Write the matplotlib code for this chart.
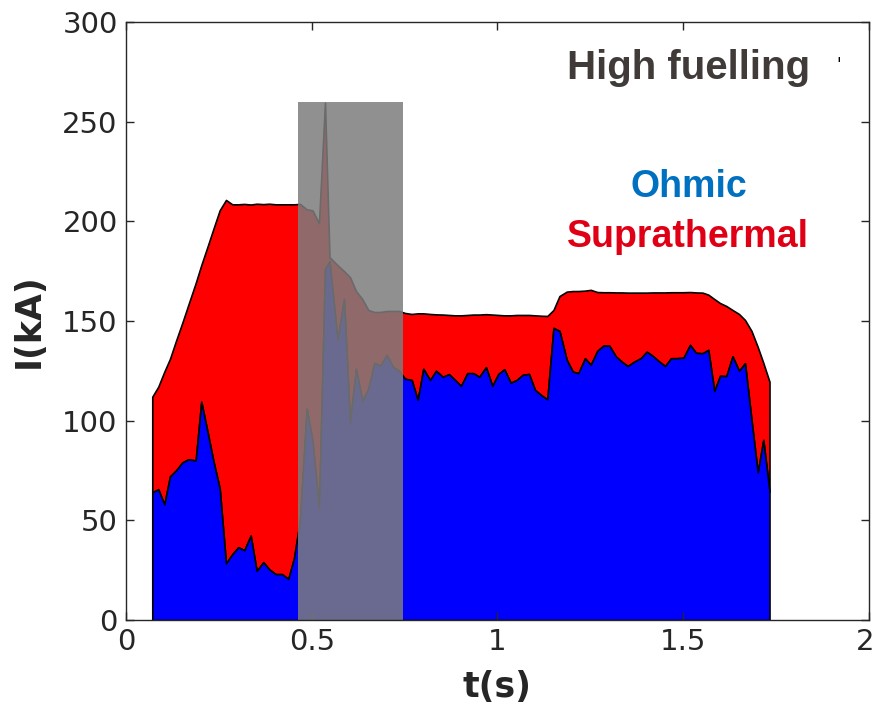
import matplotlib
matplotlib.use("Agg")
import matplotlib.pyplot as plt
import matplotlib.transforms as mtransforms
import numpy as np

# time samples (s), ohmic current and total current (kA)
t = [0.0708, 0.0869, 0.1031, 0.1184, 0.1346, 0.1515, 0.1677, 0.1876, 0.2027, 0.2199,
     0.2350, 0.2522, 0.2692, 0.2861, 0.3023, 0.3184, 0.3357, 0.3518, 0.3696, 0.3857,
     0.4030, 0.4199, 0.4369, 0.4522, 0.4684, 0.4864, 0.5020, 0.5195, 0.5357, 0.5478,
     0.5693, 0.5868, 0.6030, 0.6191, 0.6361, 0.6522, 0.6684, 0.6845, 0.7017, 0.7187,
     0.7349, 0.7510, 0.7690, 0.7852, 0.8003, 0.8183, 0.8345, 0.8525, 0.8694, 0.8856,
     0.9017, 0.9187, 0.9349, 0.9510, 0.9690, 0.9860, 1.0022, 1.0183, 1.0355, 1.0517,
     1.0678, 1.0848, 1.1009, 1.1190, 1.1341, 1.1507, 1.1669, 1.1863, 1.2024, 1.2175,
     1.2355, 1.2509, 1.2686, 1.2848, 1.3009, 1.3190, 1.3343, 1.3504, 1.3682, 1.3854,
     1.4016, 1.4177, 1.4328, 1.4509, 1.4670, 1.4832, 1.5007, 1.5182, 1.5343, 1.5518,
     1.5674, 1.5836, 1.5989, 1.6159, 1.6326, 1.6501, 1.6662, 1.6837, 1.7004, 1.7155,
     1.7322]
ohmic = [64, 65.6, 58, 72, 75, 79, 80.6, 80, 109.5, 94,
         80, 66, 28.4, 33, 36.5, 35, 42.3, 24.6, 29, 25.4,
         23, 23, 20.6, 31, 50, 106, 90, 56, 176, 180,
         140.5, 161, 99, 126, 110, 116, 129, 127.6, 133, 127,
         125, 121, 120.4, 110.4, 126, 120.4, 125, 122, 123.3, 120.4,
         117.4, 123.8, 123.8, 122, 126.8, 117.4, 123.4, 125.8, 119, 120.4,
         123, 123.4, 115.4, 112.6, 110.7, 146.5, 145, 130.5, 124.6, 123.8,
         131.3, 128, 135, 137.6, 137.6, 132.1, 129.6, 127.4, 129.6, 131.3,
         134.6, 132.5, 130, 127.4, 131.3, 131.3, 131.6, 138, 134, 133.8,
         135.5, 114.8, 122.5, 122.3, 132.3, 125, 128.8, 100.4, 74, 90.3,
         64.4]
total = [112, 117, 124.5, 131, 140, 149, 158, 169, 178, 187.5,
         196, 205.5, 210.7, 208.5, 208.5, 208.7, 208.4, 208.8, 208.6, 208.8,
         208.5, 208.5, 208.5, 208.5, 208.7, 206, 205.5, 199, 259.5, 182,
         178, 175, 172, 165, 161, 155.5, 154.5, 154.5, 155, 155,
         155, 154, 153.5, 153.8, 153.8, 153.5, 153.3, 153.2, 153.0, 152.8,
         152.8, 153, 153.2, 153.2, 153.4, 153.2, 153, 152.8, 152.8, 153,
         153, 153, 152.8, 152.6, 152.5, 155.5, 162.5, 164.7, 165, 165,
         165.2, 165.6, 164.5, 164.4, 164.4, 164.3, 164.3, 164.2, 164.2, 164.2,
         164.2, 164.3, 164.3, 164.3, 164.4, 164.4, 164.4, 164.5, 164.3, 164.2,
         163.2, 161, 159, 157.5, 155.5, 153.5, 150.5, 145, 137, 129,
         119.5]

# shaded time window (s) and its height (kA)
window = [0.463, 0.746]
window_top = 260

t = np.array(t)
ohmic = np.array(ohmic)
total = np.array(total)

fig = plt.figure(figsize=(8.76, 7.1), dpi=100)
ax = fig.add_axes([0.1438, 0.1268, 0.8482, 0.8423])

ax.fill_between(t, ohmic, total, facecolor="#ff0000", edgecolor="k", linewidth=1.2)
ax.fill_between(t, 0, ohmic, facecolor="#0000ff", edgecolor="k", linewidth=1.2)
ax.fill_between(window, 0, window_top, facecolor=(0.49, 0.49, 0.49), alpha=0.85,
                edgecolor="none", zorder=3)

ax.set_xlim(0, 2)
ax.set_ylim(0, 300)
ax.set_xticks([0, 0.5, 1, 1.5, 2])
ax.set_xticklabels(["0", "0.5", "1", "1.5", "2"])
ax.set_yticks(np.arange(0, 301, 50))
ax.tick_params(direction="in", length=6, width=1, top=True, right=True,
               labelsize=21, colors="#262626", pad=6)
for s in ax.spines.values():
    s.set_color("#262626")
    s.set_linewidth(1)
    s.set_zorder(4)

# keep the last x label inside the canvas
last = ax.get_xticklabels()[-1]
last.set_transform(last.get_transform() +
                   mtransforms.ScaledTranslation(-4 / 100, 0, fig.dpi_scale_trans))

ax.set_xlabel("t(s)", fontsize=25, fontweight="bold", color="#262626", labelpad=10)
ax.set_ylabel("I(kA)", fontsize=25, fontweight="bold", color="#262626", labelpad=12)

ax.text(0.757, 0.905, "High fuelling", transform=ax.transAxes, ha="center",
        va="baseline", fontsize=29, fontweight="bold", color="#403b39",
        family="Liberation Sans")
ax.text(0.757, 0.707, "Ohmic", transform=ax.transAxes, ha="center",
        va="baseline", fontsize=27, fontweight="bold", color="#0070c0",
        family="Liberation Sans")
ax.text(0.757, 0.624, "Suprathermal", transform=ax.transAxes, ha="center",
        va="baseline", fontsize=27, fontweight="bold", color="#e00015",
        family="Liberation Sans")
ax.text(0.959, 0.92, "'", transform=ax.transAxes, ha="center", va="baseline",
        fontsize=12, color="k")

fig.savefig("out.png", dpi=100)
